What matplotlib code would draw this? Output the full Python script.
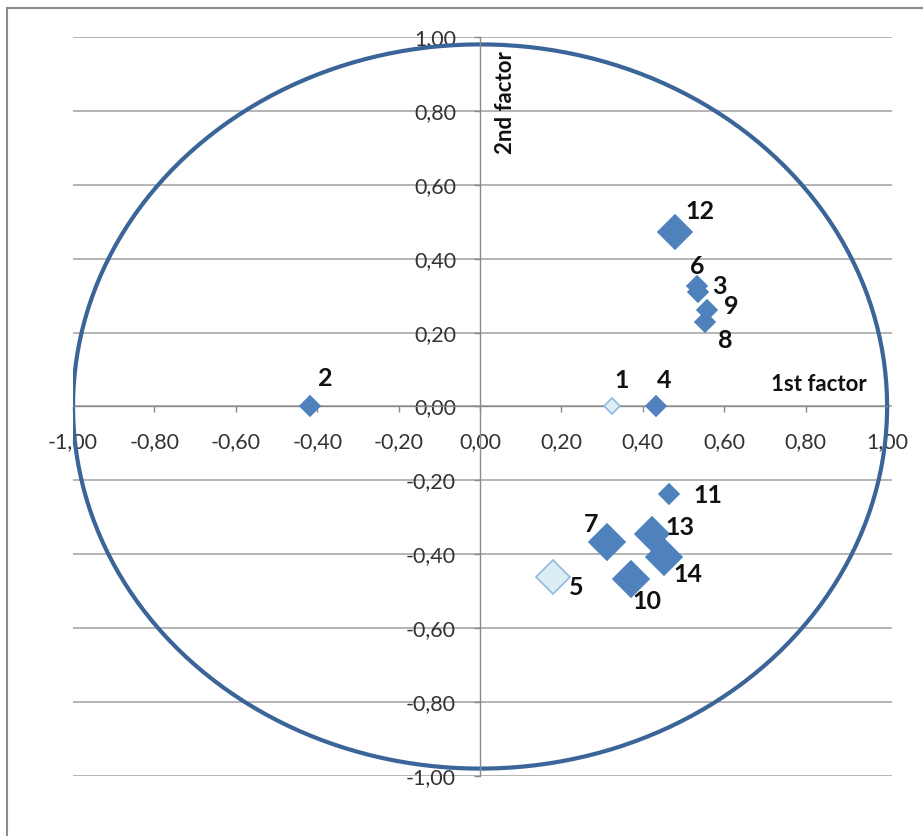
import numpy as np
import matplotlib
matplotlib.use("Agg")
import matplotlib.pyplot as plt
import matplotlib.ticker as mticker
from matplotlib.patches import Rectangle

# factor loadings
labels = ["1", "2", "3", "4", "5", "6", "7", "8", "9", "10", "11", "12", "13", "14"]
factor1 = [0.323, -0.419, 0.536, 0.432, 0.180, 0.534, 0.311, 0.553, 0.558, 0.370, 0.464, 0.479, 0.422, 0.453]
factor2 = [0.0, 0.0, 0.309, 0.0, -0.462, 0.325, -0.367, 0.228, 0.262, -0.466, -0.238, 0.472, -0.346, -0.408]
light = ["1", "5"]  # points drawn with pale fill

ticks = [-1.0, -0.8, -0.6, -0.4, -0.2, 0.0, 0.2, 0.4, 0.6, 0.8, 1.0]

# marker sizes and label offsets (pixels) per point
marker_size = [8.2, 10, 10, 10, 17.5, 10, 18, 10, 10, 18, 10, 17.5, 17.5, 18]
label_offsets = [(10, 26), (16, 28), (21, 6), (8, 26), (23, -10), (0, 20), (-16, 18),
                 (20, -18), (24, 3), (16, -23), (39, -1), (25, 21), (28, 7), (23, -17)]

plt.rcParams["font.family"] = ["Lato", "DejaVu Sans"]

fig = plt.figure(figsize=(9.23, 8.36), dpi=100)
ax = fig.add_axes([73 / 923, 60 / 836, 819 / 923, 739 / 836])

# outer chart frame
fig.patches.append(Rectangle((7 / 923, -0.05), 1.2, 1 - 8 / 836 + 0.05, transform=fig.transFigure,
                             fill=False, edgecolor="#8c8c8c", linewidth=1.5))

ax.set_xlim(-1.0, 1.012)
ax.set_ylim(-1.0, 1.0)

for s in ["top", "right"]:
    ax.spines[s].set_visible(False)
ax.spines["left"].set_position(("data", 0))
ax.spines["bottom"].set_position(("data", 0))
for s in ["left", "bottom"]:
    ax.spines[s].set_color("#8a8a8a")
    ax.spines[s].set_linewidth(1.0)
ax.spines["left"].set_bounds(-1.0, 1.0)
ax.spines["bottom"].set_bounds(-1.0, 1.0)

ax.set_xticks(ticks)
ax.set_yticks(ticks)
fmt = mticker.FuncFormatter(lambda v, _: f"{0.0 if abs(v) < 1e-9 else v:.2f}".replace(".", ","))
ax.xaxis.set_major_formatter(fmt)
ax.yaxis.set_major_formatter(fmt)
ax.tick_params(axis="x", direction="out", length=4.3, width=1, color="#8a8a8a",
               pad=14, labelsize=15.5, labelcolor="#333333")
ax.tick_params(axis="y", direction="out", length=4.3, width=1, color="#8a8a8a",
               pad=13, labelsize=15.5, labelcolor="#333333")

ax.yaxis.grid(True, color="#a0a0a0", linewidth=1.1)
ax.xaxis.grid(False)
ax.set_axisbelow(True)

# correlation circle
theta = np.linspace(0, 2 * np.pi, 400)
ax.plot(np.cos(theta), 0.98 * np.sin(theta), color="#3b6598", linewidth=3.0, zorder=2)

for lab, x, y, ms, off in zip(labels, factor1, factor2, marker_size, label_offsets):
    if lab in light:
        fc, ec = "#dbeef4", "#95b8e0"
    else:
        fc, ec = "#4f81bd", "#4f81bd"
    ax.plot([x], [y], marker="D", markersize=ms, markerfacecolor=fc, markeredgecolor=ec,
            markeredgewidth=1.2, linestyle="none", zorder=3)
    ax.annotate(lab, (x, y), xytext=off, textcoords="offset pixels", ha="center", va="center",
                fontsize=18, fontweight="bold", color="#111111", zorder=4)

ax.text(0.833, 0.06, "1st factor", ha="center", va="center", fontsize=16,
        fontweight="bold", color="#111111")
ax.text(0.062, 0.822, "2nd factor", ha="center", va="center", rotation=90, fontsize=16,
        fontweight="bold", color="#111111")

fig.savefig("out.png", dpi=100)
